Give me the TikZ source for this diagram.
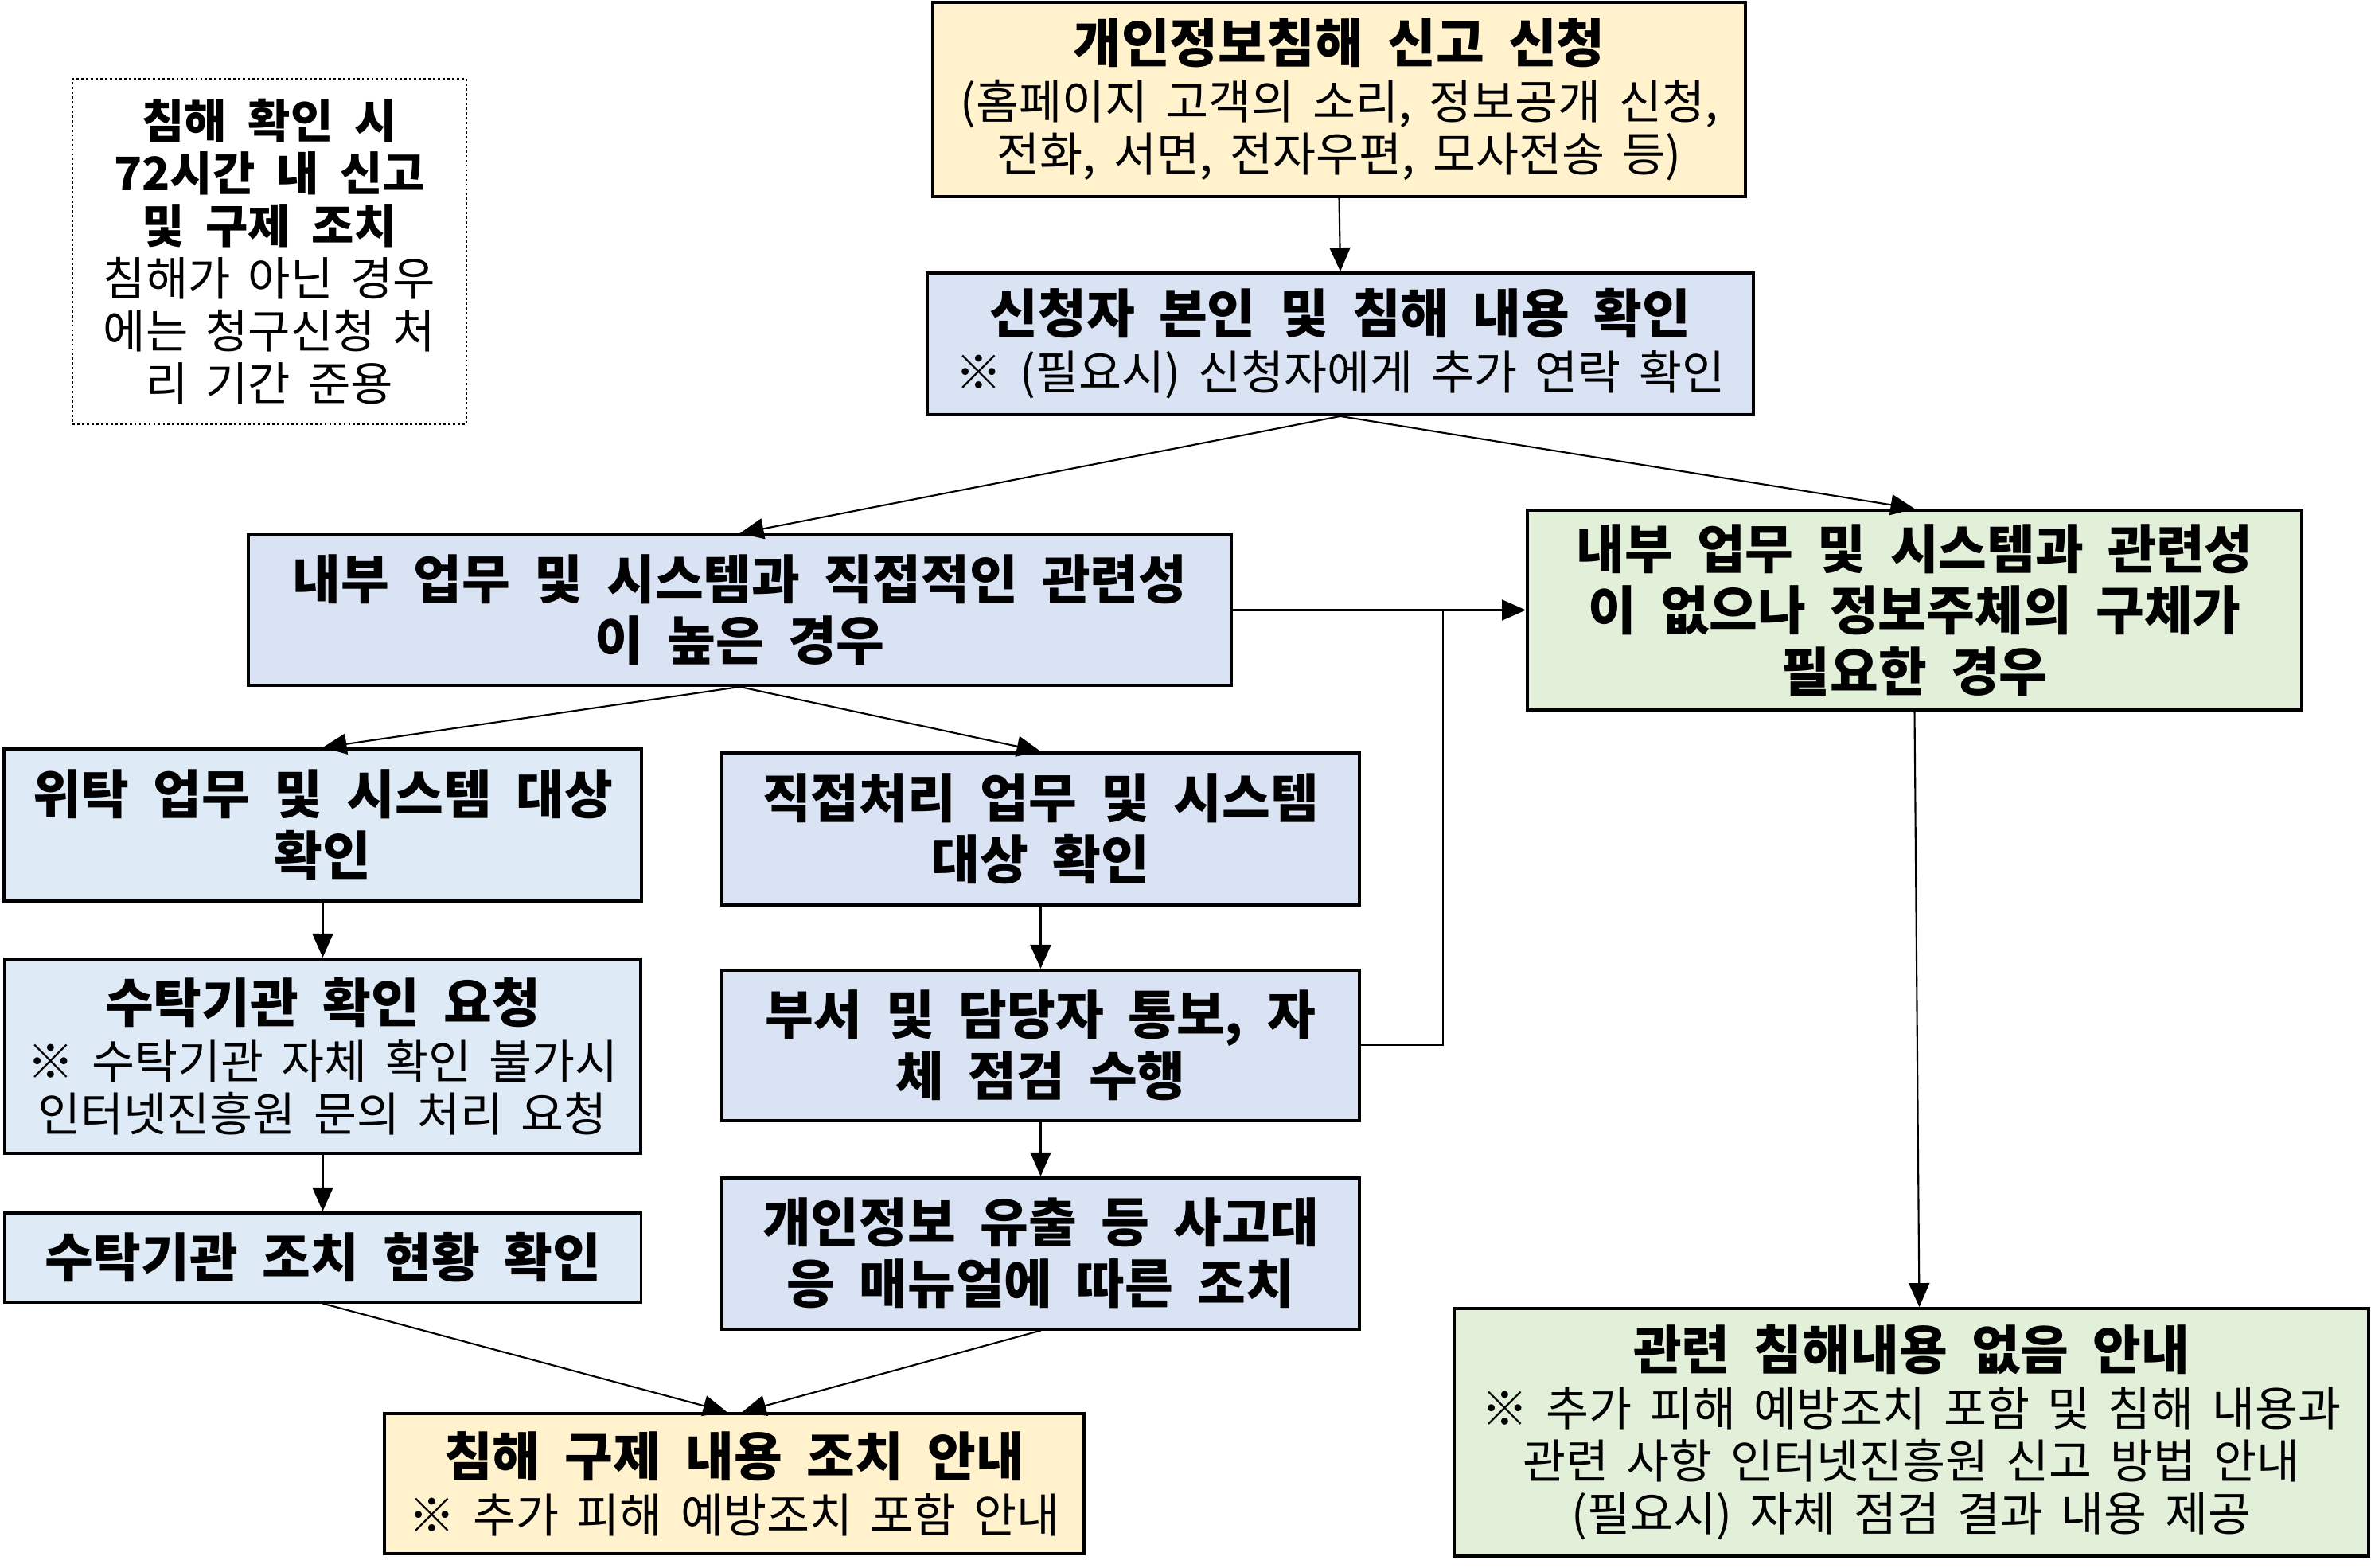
\documentclass[tikz,border=0pt]{standalone}
\usepackage{fontspec}
\setmainfont{Noto Sans CJK KR}[WordSpace=1.7,BoldFeatures={WordSpace=2}]
\usepackage{tikz}
\usetikzlibrary{positioning, arrows.meta}
\definecolor{applyyellow}{HTML}{FFF2CC}
\definecolor{caseblue}{HTML}{DAE3F3}
\definecolor{trustblue}{HTML}{DEEBF7}
\definecolor{nonegreen}{HTML}{E2F0D9}
\newcommand{\hd}[1]{{\bfseries\fontsize{18.8}{21.9}\selectfont #1}}

\begin{document}
\begin{tikzpicture}[
        node distance=0.7cm,
        box/.style={draw=black,line width=1.1pt,inner sep=0pt,align=center,
            font=\fontsize{16.7}{18.8}\selectfont},
        hbox/.style={box,font=\bfseries\fontsize{18.8}{21.9}\selectfont},
        memo/.style={draw=black,line width=0.7pt,dash pattern=on 0.8pt off 0.9pt,
            inner sep=0pt,align=center,font=\fontsize{16.5}{18.8}\selectfont},
        flow/.style={-{Triangle[length=0.3cm,width=0.26cm]},line width=0.6pt}
    ]
    \useasboundingbox (0,0) rectangle (29.79,-19.70);
    \node[memo,minimum width=4.95cm,minimum height=4.34cm] (note) at (3.385,-3.16)
        {\textbf{침해 확인 시}\\\textbf{72시간 내 신고}\\\textbf{및 구제 조치}\\침해가 아닌 경우\\에는 청구신청 처\\리 기간 준용};
    \node[box,fill=applyyellow,minimum width=10.21cm,minimum height=2.44cm] (apply) at (16.825,-1.25)
        {\hd{개인정보침해 신고 신청}\\[1.4pt](홈페이지 고객의 소리, 정보공개 신청,\\전화, 서면, 전자우편, 모사전송 등)};
    \node[box,fill=caseblue,minimum width=10.38cm,minimum height=1.78cm] (verify) at (16.84,-4.32)
        {\hd{신청자 본인 및 침해 내용 확인}\\[1.4pt]※ (필요시) 신청자에게 추가 연락 확인};
    \node[hbox,fill=caseblue,minimum width=12.35cm,minimum height=1.89cm] (direct) at (9.295,-7.665)
        {내부 업무 및 시스템과 직접적인 관련성\\이 높은 경우};
    \node[hbox,fill=nonegreen,minimum width=9.73cm,minimum height=2.51cm] (indirect) at (24.055,-7.665)
        {내부 업무 및 시스템과 관련성\\이 없으나 정보주체의 구체가\\필요한 경우};
    \node[hbox,fill=trustblue,minimum width=8.01cm,minimum height=1.91cm] (consign) at (4.055,-10.365)
        {위탁 업무 및 시스템 대상\\확인};
    \node[hbox,fill=caseblue,minimum width=8.01cm,minimum height=1.91cm] (self) at (13.075,-10.415)
        {직접처리 업무 및 시스템\\대상 확인};
    \node[box,fill=trustblue,minimum width=7.99cm,minimum height=2.44cm,below=0.69cm of consign] (request)
        {\hd{수탁기관 확인 요청}\\[1.4pt]※ 수탁기관 자체 확인 불가시\\인터넷진흥원 문의 처리 요청};
    \node[hbox,fill=caseblue,minimum width=8.01cm,minimum height=1.89cm,below=0.78cm of self] (notify)
        {부서 및 담당자 통보, 자\\체 점검 수행};
    \node[hbox,fill=trustblue,minimum width=8.00cm,minimum height=1.12cm,below=0.71cm of request] (status)
        {수탁기관 조치 현황 확인};
    \node[hbox,fill=caseblue,minimum width=8.01cm,minimum height=1.90cm,below=0.68cm of notify] (manual)
        {개인정보 유출 등 사고대\\응 매뉴얼에 따른 조치};
    \node[box,fill=applyyellow,minimum width=8.79cm,minimum height=1.76cm] (relief) at (9.225,-18.64)
        {\hd{침해 구제 내용 조치 안내}\\[1.4pt]※ 추가 피해 예방조치 포함 안내};
    \node[box,fill=nonegreen,minimum width=11.49cm,minimum height=3.11cm] (none) at (24.015,-17.995)
        {\hd{관련 침해내용 없음 안내}\\[1.4pt]※ 추가 피해 예방조치 포함 및 침해 내용과\\관련 사항 인터넷진흥원 신고 방법 안내\\(필요시) 자체 점검 결과 내용 제공};
    \coordinate (merge) at (18.13,-7.665);
    \draw[flow] (apply.south) -- (verify.north);
    \draw[flow] (verify.south) -- (direct.north);
    \draw[flow] (verify.south) -- (indirect.north);
    \draw[flow] (direct.east) -- (indirect.west);
    \draw[line width=0.6pt] (notify.east) -| (merge);
    \draw[flow] (direct.south) -- (consign.north);
    \draw[flow] (direct.south) -- (self.north);
    \draw[flow] (consign) -- (request);
    \draw[flow] (request) -- (status);
    \draw[flow] (self) -- (notify);
    \draw[flow] (notify) -- (manual);
    \draw[flow] (status.south) -- ([xshift=-0.09cm]relief.north);
    \draw[flow] (manual.south) -- ([xshift=0.1cm]relief.north);
    \draw[flow] (indirect.south) -- ([xshift=0.1cm]none.north);
\end{tikzpicture}
\end{document}
